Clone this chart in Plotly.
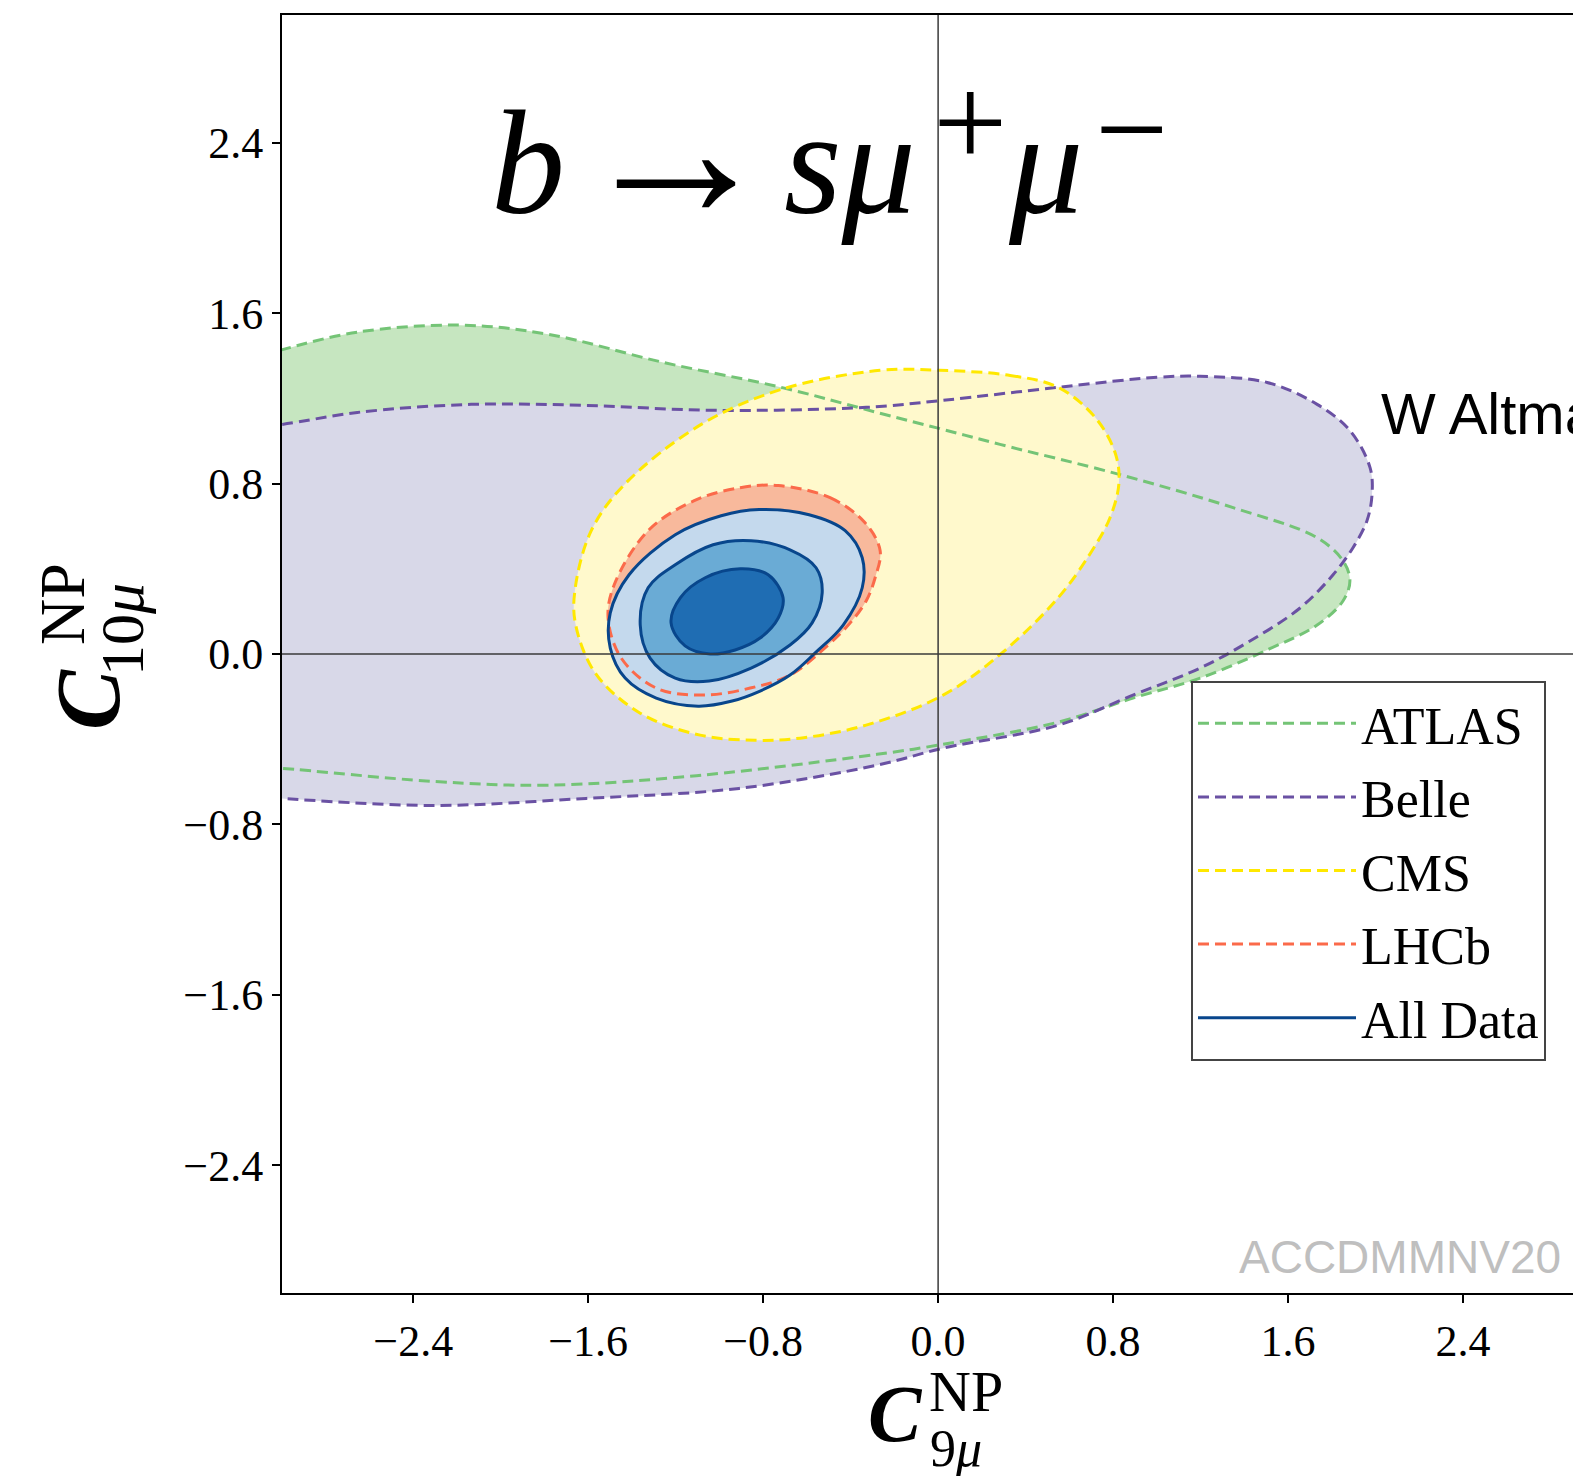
import plotly.graph_objects as go

# ---------------- data ----------------
x_tick_vals = [-2.4, -1.6, -0.8, 0.0, 0.8, 1.6, 2.4]
x_tick_text = ["\u22122.4", "\u22121.6", "\u22120.8", "0.0", "0.8", "1.6", "2.4"]
y_tick_vals = [-2.4, -1.6, -0.8, 0.0, 0.8, 1.6, 2.4]
y_tick_text = ["\u22122.4", "\u22121.6", "\u22120.8", "0.0", "0.8", "1.6", "2.4"]

atlas_x = [-3.145, -3.008, -2.656, -2.185, -1.783, -1.257, -0.718, -0.279, 0.023, 0.283,
           0.832, 1.349, 1.733, 1.851, 1.883, 1.851, 1.733, 1.504, 1.198, 0.891,
           0.549, 0.023, -0.279, -1.083, -1.783, -2.309, -3.008, -3.145]
atlas_y = [1.384, 1.426, 1.511, 1.544, 1.501, 1.369, 1.252, 1.134, 1.054, 0.984,
           0.842, 0.687, 0.546, 0.438, 0.344, 0.249, 0.136, 0.019, -0.113, -0.207,
           -0.320, -0.424, -0.471, -0.569, -0.616, -0.598, -0.536, -0.527]

belle_x = [-3.145, -2.999, -2.656, -2.135, -1.609, -1.029, -0.329, 0.023, 0.549, 1.001,
           1.198, 1.504, 1.733, 1.883, 1.975, 1.984, 1.961, 1.897, 1.806, 1.655,
           1.426, 1.198, 0.891, 0.549, 0.023, -0.279, -0.910, -1.609, -2.309, -3.008, -3.145]
belle_y = [1.064, 1.078, 1.134, 1.172, 1.167, 1.144, 1.158, 1.191, 1.252, 1.299,
           1.304, 1.275, 1.172, 1.049, 0.875, 0.748, 0.626, 0.499, 0.372, 0.216,
           0.061, -0.066, -0.193, -0.334, -0.442, -0.522, -0.631, -0.678, -0.711, -0.678, -0.668]

cms_x = [0.005, 0.329, 0.549, 0.718, 0.809, 0.827, 0.786, 0.695, 0.549, 0.302, 0.023,
         -0.329, -0.631, -0.837, -1.088, -1.362, -1.568, -1.659, -1.659, -1.586, -1.435,
         -1.083, -0.718, -0.265]
cms_y = [1.332, 1.308, 1.252, 1.111, 0.946, 0.805, 0.640, 0.471, 0.264, 0.014, -0.193,
         -0.334, -0.395, -0.405, -0.381, -0.278, -0.089, 0.146, 0.311, 0.579, 0.795,
         1.078, 1.242, 1.332]

lhcb_x = [-0.731, -0.494, -0.334, -0.265, -0.288, -0.329, -0.402, -0.503, -0.677, -0.859,
          -1.079, -1.289, -1.449, -1.509, -1.481, -1.326, -1.115, -0.905]
lhcb_y = [0.791, 0.734, 0.616, 0.485, 0.358, 0.249, 0.146, 0.042, -0.099, -0.160,
          -0.193, -0.160, -0.019, 0.169, 0.325, 0.579, 0.720, 0.781]

all3_x = [-0.818, -0.590, -0.425, -0.347, -0.347, -0.434, -0.562, -0.677, -0.814, -0.942,
          -1.097, -1.289, -1.431, -1.499, -1.499, -1.413, -1.202, -0.992]
all3_y = [0.678, 0.654, 0.579, 0.452, 0.311, 0.136, 0.005, -0.099, -0.174, -0.221,
          -0.245, -0.207, -0.113, 0.028, 0.193, 0.372, 0.560, 0.649]

all2_x = [-0.855, -0.677, -0.558, -0.530, -0.576, -0.677, -0.855, -1.047, -1.202, -1.317,
          -1.362, -1.326, -1.202, -1.029]
all2_y = [0.532, 0.489, 0.405, 0.287, 0.146, 0.042, -0.066, -0.127, -0.113, -0.019,
          0.136, 0.311, 0.419, 0.513]

all1_x = [-0.905, -0.777, -0.709, -0.731, -0.814, -0.928, -1.042, -1.157, -1.221, -1.179, -1.065]
all1_y = [0.400, 0.372, 0.264, 0.169, 0.075, 0.019, 0.000, 0.038, 0.146, 0.264, 0.358]

# ---------------- layout geometry ----------------
W, H = 1573, 1476
ML, MR, MT, MB = 282, 0, 15, 183
PW, PH = W - ML - MR, H - MT - MB


def paper(px, py):
    return (px - ML) / PW, (H - MB - py) / PH


def closed(xs, ys):
    return list(xs) + [xs[0]], list(ys) + [ys[0]]


SERIF = "Liberation Serif"
SANS = "Liberation Sans"

fig = go.Figure()

regions = [
    ("ATLAS", atlas_x, atlas_y, "#c6e6c0", "#74c476"),
    ("Belle", belle_x, belle_y, "#d8d8e8", "#6a51a3"),
    ("CMS", cms_x, cms_y, "#fff9cc", "#ffe800"),
    ("LHCb", lhcb_x, lhcb_y, "#f8b99c", "#fb6a4a"),
]
blue_regions = [
    (all3_x, all3_y, "#c4d9ed"),
    (all2_x, all2_y, "#6aabd5"),
    (all1_x, all1_y, "#1f6db3"),
]

# filled areas first
for name, xs, ys, fillc, linec in regions:
    cx, cy = closed(xs, ys)
    fig.add_trace(go.Scatter(x=cx, y=cy, mode="lines", fill="toself", fillcolor=fillc,
                             line=dict(width=0, shape="spline", smoothing=1.0),
                             hoverinfo="skip", showlegend=False))
for xs, ys, fillc in blue_regions:
    cx, cy = closed(xs, ys)
    fig.add_trace(go.Scatter(x=cx, y=cy, mode="lines", fill="toself", fillcolor=fillc,
                             line=dict(width=0, shape="spline", smoothing=1.0),
                             hoverinfo="skip", showlegend=False))

# contour outlines on top
for name, xs, ys, fillc, linec in regions:
    cx, cy = closed(xs, ys)
    fig.add_trace(go.Scatter(x=cx, y=cy, mode="lines", name=name, legendgroup=name,
                             line=dict(color=linec, width=3, dash="11px,6px",
                                       shape="spline", smoothing=1.0)))
for j, (xs, ys, fillc) in enumerate(blue_regions):
    cx, cy = closed(xs, ys)
    fig.add_trace(go.Scatter(x=cx, y=cy, mode="lines", name="All Data", legendgroup="All Data",
                             showlegend=(j == 0),
                             line=dict(color="#08468c", width=3, shape="spline", smoothing=1.0)))

annotations = []


def ann(text, px, py, size, family=SERIF, color="black", angle=0, xanchor="center",
        yanchor="middle"):
    xp, yp = paper(px, py)
    annotations.append(dict(text=text, x=xp, y=yp, xref="paper", yref="paper",
                            xanchor=xanchor, yanchor=yanchor, showarrow=False,
                            textangle=angle, borderpad=0,
                            font=dict(family=family, size=size, color=color)))


# title inside the plot:  b -> s mu+ mu-
ann("<i>b</i>", 490, 163, 148, xanchor="left")
ann("\u2192", 676, 150, 200)
ann("<i>s\u03bc</i>", 783, 163, 148, xanchor="left")
ann("+", 970, 122, 132)
ann("<i>\u03bc</i>", 1007, 163, 148, xanchor="left")
ann("\u2212", 1131, 129, 130)
# side label (cut by the right edge in the original too)
ann("W Altmannshofer", 1380, 414, 58, family=SANS, xanchor="left")
# watermark
ann("ACCDMMNV20", 1562, 1257, 46, family=SANS, color="#bfbfbf", xanchor="right")

# x-axis title  C_{9mu}^{NP}
ann("<b><i>C</i></b>", 895, 1414, 80)
ann("NP", 966, 1391, 58)
ann("9<i>\u03bc</i>", 956, 1448, 52)
# y-axis title  C_{10mu}^{NP}
ann("<b><i>C</i></b>", 88, 700, 90, angle=-90)
ann("NP", 62, 604, 64, angle=-90)
ann("10<i>\u03bc</i>", 122, 630, 62, angle=-90)

lx, ly = paper(1191, 681)

fig.update_layout(
    width=W, height=H, autosize=False,
    margin=dict(l=ML, r=MR, t=MT, b=MB, pad=0),
    paper_bgcolor="white", plot_bgcolor="white",
    annotations=annotations,
    shapes=[
        dict(type="line", xref="x", yref="paper", x0=0, x1=0, y0=0, y1=1,
             line=dict(color="#3a3a3a", width=1.5), layer="above"),
        dict(type="line", xref="paper", yref="y", x0=0, x1=1, y0=0, y1=0,
             line=dict(color="#3a3a3a", width=1.5), layer="above"),
    ],
    legend=dict(x=lx, y=ly, xanchor="left", yanchor="top",
                bgcolor="white", bordercolor="#444444", borderwidth=2,
                font=dict(family=SERIF, size=52, color="black"),
                traceorder="grouped", tracegroupgap=3, itemwidth=158),
    xaxis=dict(range=[-3.0, 2.903], tickvals=x_tick_vals, ticktext=x_tick_text,
               showgrid=False, zeroline=False, showline=True, linecolor="black",
               linewidth=2, mirror=True, ticks="outside", ticklen=8, tickwidth=1.5,
               tickcolor="black", tickfont=dict(family=SERIF, size=44, color="black")),
    yaxis=dict(range=[-3.0, 3.0], tickvals=y_tick_vals, ticktext=y_tick_text,
               showgrid=False, zeroline=False, showline=True, linecolor="black",
               linewidth=2, mirror=False, ticks="outside", ticklen=8, tickwidth=1.5,
               tickcolor="black", tickfont=dict(family=SERIF, size=44, color="black")),
)

fig.write_html("out.html")
